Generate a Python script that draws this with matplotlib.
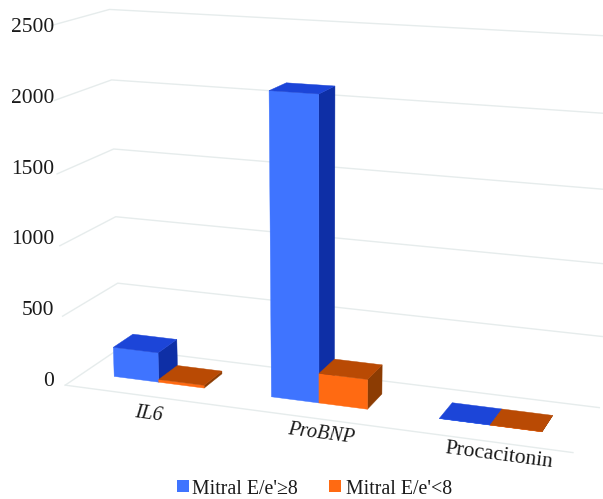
import matplotlib
matplotlib.use('Agg')
import matplotlib.pyplot as plt
import numpy as np

CATEGORIES = ['IL6', 'ProBNP', 'Procacitonin']
SERIES_NAMES = ["Mitral E/e'≥8", "Mitral E/e'<8"]
HIGH_VALUES = [215, 2110, 1]
LOW_VALUES = [20, 210, 1]
TICKS = [0, 500, 1000, 1500, 2000, 2500]

GRID_COLOR = '#e6ecec'
TEXT_COLOR = '#1a1a1a'
BLUE = {'front': '#3f74ff', 'top': '#1c45d8', 'side': '#0e2fa6'}
ORANGE = {'front': '#ff6a12', 'top': '#b94a04', 'side': '#8c3c03'}

# box corners of the plot as (category, value, depth) -> pixel, used to solve the camera
FRONT_LEFT_PX = [(65, 385), (61.5, 317), (59, 246.5), (56, 174), (55, 100), (55, 24)]
BACK_LEFT_PX = [(121, 347), (118.5, 283.5), (116, 217), (113.3, 149.5), (110, 80), (108, 10)]
BACK_RIGHT_PX = [(600, 407), (603, 336.5), (605, 264), (608, 189.7), (611, 114), (615, 36.2)]
FRONT_RIGHT_PX = (572, 453)

GAP = 0.2
BAR_WIDTH = 0.29
DEPTH_FRONT = 0.33
DEPTH_BACK = 0.70


def solve_camera():
    world = []
    pixels = []
    for i, v in enumerate(TICKS):
        world.append((0, v, 0))
        pixels.append(FRONT_LEFT_PX[i])
        world.append((0, v, 1))
        pixels.append(BACK_LEFT_PX[i])
        world.append((3, v, 1))
        pixels.append(BACK_RIGHT_PX[i])
    world.append((3, 0, 0))
    pixels.append(FRONT_RIGHT_PX)

    rows = []
    rhs = []
    for (x, v, z), (u, w) in zip(world, pixels):
        y = v / 1000
        rows.append([x, y, z, 1, 0, 0, 0, 0, -u * x, -u * y, -u * z])
        rhs.append(u)
        rows.append([0, 0, 0, 0, x, y, z, 1, -w * x, -w * y, -w * z])
        rhs.append(w)
    params, *_ = np.linalg.lstsq(np.array(rows, float), np.array(rhs, float), rcond=None)
    return np.append(params, 1.0).reshape(3, 4)


CAMERA = solve_camera()


def project(x, v, z):
    p = CAMERA @ np.array([x, v / 1000, z, 1.0])
    return p[0] / p[2], p[1] / p[2]


def draw_bar(ax, x0, x1, value, colors):
    z0, z1 = DEPTH_FRONT, DEPTH_BACK
    faces = [
        ('side', [(x1, 0, z0), (x1, 0, z1), (x1, value, z1), (x1, value, z0)]),
        ('front', [(x0, 0, z0), (x1, 0, z0), (x1, value, z0), (x0, value, z0)]),
        ('top', [(x0, value, z0), (x1, value, z0), (x1, value, z1), (x0, value, z1)]),
    ]
    for name, corners in faces:
        pts = [project(*c) for c in corners]
        ax.fill(*zip(*pts), color=colors[name], lw=0.3, zorder=3)


fig = plt.figure(figsize=(6.03, 4.99), dpi=100)
ax = fig.add_axes([0, 0, 1, 1])
ax.set_xlim(0, 603)
ax.set_ylim(499, 0)
ax.axis('off')

plt.rcParams['font.family'] = ['Liberation Serif', 'DejaVu Serif']

for v in TICKS:
    line = [project(0, v, 0), project(0, v, 1), project(3, v, 1)]
    ax.plot(*zip(*line), color=GRID_COLOR, lw=1.0, zorder=1)
    ax.text(54, 381.5 - v * 0.1416, str(v), ha='right', va='center', fontsize=15.5, color=TEXT_COLOR)
floor_edge = [project(0, 0, 0), project(3, 0, 0)]
ax.plot(*zip(*floor_edge), color=GRID_COLOR, lw=1.0, zorder=1)

for i in range(len(CATEGORIES)):
    mid = i + GAP + BAR_WIDTH
    draw_bar(ax, i + GAP, mid, HIGH_VALUES[i], BLUE)
    draw_bar(ax, mid, mid + BAR_WIDTH, LOW_VALUES[i], ORANGE)

LABEL_X = [149, 321, 499]
LABEL_Y = [414, 434, 456]
LABEL_STYLE = ['italic', 'italic', 'normal']
LABEL_SIZE = [14.5, 14.5, 15.5]
for i, name in enumerate(CATEGORIES):
    ax.text(LABEL_X[i], LABEL_Y[i], name, ha='center', va='center', rotation=-7.5,
            rotation_mode='anchor', fontsize=LABEL_SIZE[i], style=LABEL_STYLE[i], color=TEXT_COLOR)

# legend entries sit on one centred row under the plot
for x, text_x, name, color in zip([177, 329], [192, 346], SERIES_NAMES, [BLUE['front'], ORANGE['front']]):
    ax.add_patch(plt.Rectangle((x, 480), 12, 12, color=color, lw=0, zorder=3))
    ax.text(text_x, 489, name, ha='left', va='center', fontsize=14.3, color=TEXT_COLOR)

fig.savefig('out.png', dpi=100)
